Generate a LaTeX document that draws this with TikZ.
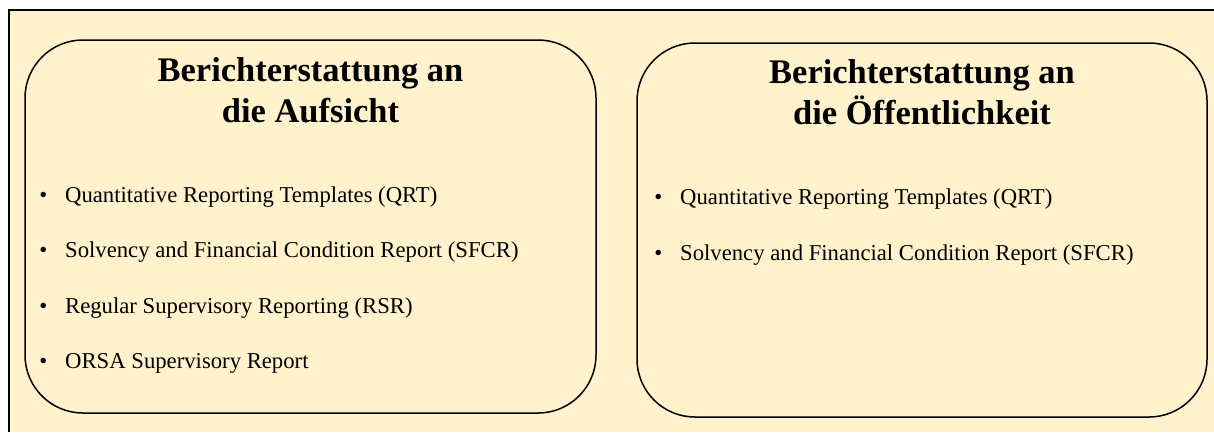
\documentclass[tikz,border=0pt]{standalone}
\usepackage{fontspec}
\setmainfont{Liberation Serif}
\definecolor{cream}{HTML}{FFF2CC}
\tikzset{
  panel/.style={draw=black, line width=1.5pt, rounded corners=58pt, inner sep=0pt},
  paneltitle/.style={font=\fontsize{34.5}{41}\selectfont\bfseries, align=center, inner sep=0pt, anchor=base},
  itemtext/.style={font=\fontsize{22.7}{27}\selectfont, anchor=base west, inner sep=0pt}
}
\newcommand{\bulletmark}{\llap{\textbullet\hspace{18pt}}}
\begin{document}
\begin{tikzpicture}[x=1pt,y=-1pt]
\useasboundingbox (0,0) rectangle (1214,432);
\fill[cream] (9,10) rectangle (1214,432);
\draw[line width=2pt] (1214,10) -- (9,10) -- (9,432);

\node[panel, minimum width=571pt, minimum height=373pt] (aufsicht) at (310.5,226.5) {};
\node[panel, minimum width=570pt, minimum height=374pt] (oeffentlich) at (922,230) {};

\node[paneltitle] (titleA) at (aufsicht.center |- 0,122) {Berichterstattung an\\die Aufsicht};
\node[paneltitle] (titleO) at (oeffentlich.center |- 0,124.5) {Berichterstattung an\\die Öffentlichkeit};

\foreach \i/\txt in {1/Quantitative Reporting Templates (QRT),
                     2/Solvency and Financial Condition Report (SFCR),
                     3/Regular Supervisory Reporting (RSR),
                     4/ORSA Supervisory Report}{
    \node[itemtext] (itemA\i) at (65,{202+55.5*(\i-1)}) {\bulletmark\txt};
}
\foreach \i/\txt in {1/Quantitative Reporting Templates (QRT),
                     2/Solvency and Financial Condition Report (SFCR)}{
    \node[itemtext] (itemO\i) at (680,{204+56*(\i-1)}) {\bulletmark\txt};
}
\end{tikzpicture}
\end{document}
